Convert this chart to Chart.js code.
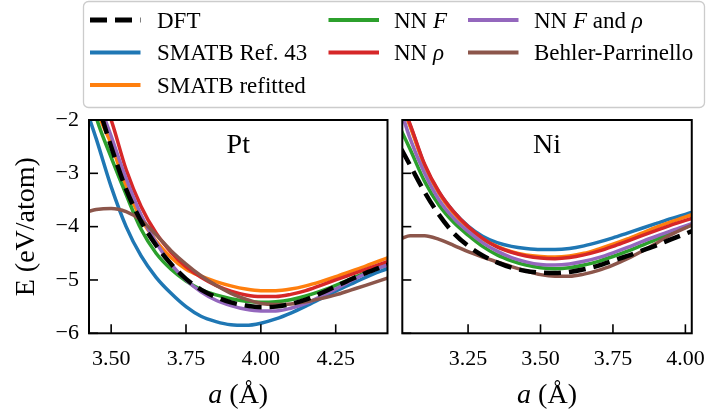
<!DOCTYPE html>
<html>
<head>
<meta charset="utf-8">
<script src="https://cdn.jsdelivr.net/npm/chart.js@4.4.1/dist/chart.umd.min.js"></script>
<style>
  html, body { margin: 0; padding: 0; background: #ffffff; }
  #wrap { position: relative; width: 718px; height: 416px; }
  #wrap canvas { position: absolute; left: 0; top: 0; }
</style>
</head>
<body>
<div id="wrap">
  <canvas id="ptChart" width="718" height="416"></canvas>
  <canvas id="niChart" width="718" height="416"></canvas>
</div>
<script>
// ---- Pt: energy vs lattice constant (eV/atom) ----
const ptLattice = [3.42, 3.45, 3.50, 3.55, 3.60, 3.65, 3.70, 3.75, 3.80, 3.85, 3.90, 3.95, 4.00, 4.05, 4.10, 4.15, 4.20, 4.25, 4.30, 4.35, 4.425];
const ptDFT      = [-1.05, -1.60, -2.50, -3.30, -3.90, -4.35, -4.70, -4.98, -5.18, -5.32, -5.42, -5.48, -5.51, -5.50, -5.45, -5.37, -5.25, -5.12, -4.99, -4.87, -4.71];
const ptSmatbRef = [-1.85, -2.35, -3.25, -4.00, -4.55, -4.95, -5.25, -5.50, -5.68, -5.78, -5.84, -5.85, -5.81, -5.73, -5.62, -5.49, -5.35, -5.21, -5.08, -4.95, -4.78];
const ptSmatbFit = [-0.95, -1.75, -2.45, -3.25, -3.85, -4.27, -4.58, -4.80, -4.93, -5.03, -5.11, -5.17, -5.20, -5.20, -5.17, -5.11, -5.03, -4.94, -4.84, -4.74, -4.58];
const ptNNF      = [-1.30, -1.95, -2.70, -3.40, -4.05, -4.50, -4.80, -5.02, -5.18, -5.28, -5.35, -5.40, -5.42, -5.41, -5.37, -5.30, -5.21, -5.10, -4.98, -4.86, -4.71];
const ptNNRho    = [-0.30, -1.30, -2.00, -2.93, -3.62, -4.12, -4.48, -4.75, -4.95, -5.10, -5.21, -5.28, -5.31, -5.31, -5.27, -5.20, -5.10, -5.00, -4.90, -4.80, -4.65];
const ptNNFRho   = [-0.80, -1.50, -2.30, -3.10, -3.78, -4.30, -4.70, -5.00, -5.22, -5.38, -5.48, -5.55, -5.58, -5.58, -5.53, -5.44, -5.31, -5.17, -5.02, -4.88, -4.71];
const ptBP       = [-3.72, -3.68, -3.66, -3.72, -3.88, -4.15, -4.45, -4.70, -4.92, -5.10, -5.25, -5.36, -5.44, -5.46, -5.45, -5.41, -5.35, -5.28, -5.19, -5.10, -4.96];

// ---- Ni: energy vs lattice constant (eV/atom) ----
const niLattice = [3.02, 3.05, 3.10, 3.15, 3.20, 3.25, 3.30, 3.35, 3.40, 3.45, 3.50, 3.55, 3.60, 3.65, 3.70, 3.75, 3.80, 3.85, 3.90, 3.95, 4.025];
const niDFT      = [-2.55, -2.85, -3.35, -3.78, -4.12, -4.36, -4.54, -4.67, -4.77, -4.83, -4.86, -4.87, -4.85, -4.80, -4.73, -4.64, -4.55, -4.45, -4.35, -4.24, -4.08];
const niSmatbRef = [-1.72, -2.10, -2.85, -3.36, -3.72, -3.99, -4.18, -4.30, -4.37, -4.41, -4.43, -4.43, -4.41, -4.36, -4.29, -4.21, -4.12, -4.03, -3.94, -3.85, -3.73];
const niSmatbFit = [-1.72, -2.12, -2.86, -3.38, -3.75, -4.02, -4.23, -4.37, -4.47, -4.53, -4.56, -4.57, -4.55, -4.50, -4.42, -4.33, -4.23, -4.12, -4.01, -3.91, -3.77];
const niNNF      = [-2.20, -2.55, -3.15, -3.60, -3.92, -4.16, -4.37, -4.53, -4.64, -4.72, -4.77, -4.79, -4.77, -4.72, -4.65, -4.56, -4.46, -4.35, -4.24, -4.12, -3.96];
const niNNRho    = [-1.68, -2.08, -2.83, -3.35, -3.72, -4.00, -4.22, -4.38, -4.48, -4.55, -4.59, -4.60, -4.58, -4.53, -4.46, -4.37, -4.27, -4.17, -4.07, -3.97, -3.84];
const niNNFRho   = [-1.85, -2.35, -3.00, -3.50, -3.84, -4.09, -4.30, -4.46, -4.58, -4.66, -4.71, -4.72, -4.70, -4.65, -4.58, -4.49, -4.39, -4.28, -4.18, -4.08, -3.94];
const niBP       = [-4.22, -4.17, -4.17, -4.24, -4.35, -4.47, -4.57, -4.66, -4.75, -4.83, -4.90, -4.93, -4.93, -4.89, -4.82, -4.72, -4.60, -4.46, -4.31, -4.15, -3.96];

// ---- axes ----
const ptTicks = [3.50, 3.75, 4.00, 4.25];
const niTicks = [3.25, 3.50, 3.75, 4.00];
const energyTicks = [-6, -5, -4, -3, -2];

// series names (*...* = italic) and line colours
const seriesLabels = ['DFT', 'SMATB Ref. 43', 'SMATB refitted', 'NN *F*', 'NN *ρ*', 'NN *F* and *ρ*', 'Behler-Parrinello'];
const seriesColors = ['#000000', '#1f77b4', '#ff7f0e', '#2ca02c', '#d62728', '#9467bd', '#8c564b'];

const FONT = "'Liberation Serif', 'Times New Roman', serif";
Chart.defaults.color = '#000000';
Chart.defaults.font.family = FONT;

function makeDatasets(lattice, series) {
  return series.map((values, i) => ({
    label: seriesLabels[i].replace(/\*/g, ''),
    data: values.map((e, k) => ({ x: lattice[k], y: e })),
    borderColor: seriesColors[i],
    borderWidth: i === 0 ? 4.5 : 3.5,
    borderDash: i === 0 ? [17, 8] : [],
    borderCapStyle: 'butt',
    pointRadius: 0,
    cubicInterpolationMode: 'monotone',
    fill: false,
    clip: 0,
    order: i === 0 ? 0 : 7 - i
  }));
}

// draws a label made of plain and *italic* runs
function drawRich(ctx, text, x, y, size) {
  const parts = text.split('*');
  let cx = x;
  parts.forEach((p, i) => {
    if (!p) return;
    ctx.font = (i % 2 ? 'italic ' : '') + size + 'px ' + FONT;
    ctx.fillText(p, cx, y);
    cx += ctx.measureText(p).width;
  });
  return cx - x;
}
function measureRich(ctx, text, size) {
  const parts = text.split('*');
  let w = 0;
  parts.forEach((p, i) => {
    if (!p) return;
    ctx.font = (i % 2 ? 'italic ' : '') + size + 'px ' + FONT;
    w += ctx.measureText(p).width;
  });
  return w;
}

// frame, inward ticks, panel name and x-axis title
const panelPlugin = {
  id: 'panel',
  afterDatasetsDraw(chart, args, opts) {
    const { ctx, chartArea: a, scales } = chart;
    ctx.save();
    ctx.strokeStyle = '#000';
    ctx.lineWidth = 1.6;
    const tl = 9;
    opts.xTicks.forEach(v => {
      const px = scales.x.getPixelForValue(v);
      ctx.beginPath(); ctx.moveTo(px, a.bottom); ctx.lineTo(px, a.bottom - tl); ctx.stroke();
    });
    energyTicks.forEach(v => {
      const py = scales.y.getPixelForValue(v);
      ctx.beginPath(); ctx.moveTo(a.left, py); ctx.lineTo(a.left + tl, py); ctx.stroke();
    });
    ctx.lineWidth = 2;
    ctx.strokeRect(a.left, a.top, a.right - a.left, a.bottom - a.top);

    ctx.fillStyle = '#000';
    ctx.textBaseline = 'alphabetic';
    ctx.textAlign = 'center';
    ctx.font = '28px ' + FONT;
    ctx.fillText(opts.name, (a.left + a.right) / 2, a.top + 33);

    // x title: italic a + (Å)
    ctx.textAlign = 'left';
    const title = '*a* (Å)';
    const w = measureRich(ctx, title, 28);
    drawRich(ctx, title, (a.left + a.right) / 2 - w / 2, 403, 28);
    ctx.restore();
  }
};

// y title and legend box, drawn once on the Pt chart
const legendPlugin = {
  id: 'sharedLegend',
  afterDraw(chart) {
    const { ctx, chartArea: a } = chart;
    ctx.save();
    ctx.fillStyle = '#000';
    ctx.font = '28px ' + FONT;
    ctx.textAlign = 'center';
    ctx.textBaseline = 'alphabetic';
    ctx.translate(34, (a.top + a.bottom) / 2);
    ctx.rotate(-Math.PI / 2);
    ctx.fillText('E (eV/atom)', 0, 0);
    ctx.restore();

    ctx.save();
    ctx.beginPath();
    ctx.roundRect(83.5, 1.5, 621, 106, 5);
    ctx.fillStyle = 'rgba(255,255,255,0.9)';
    ctx.fill();
    ctx.strokeStyle = '#cccccc';
    ctx.lineWidth = 1.3;
    ctx.stroke();

    // 7 entries in 3 columns of 3, 2, 2
    const cols = [0, 0, 0, 1, 1, 2, 2];
    const rows = [0, 1, 2, 0, 1, 0, 1];
    const colLine = [90, 328.5, 468];
    const colText = [157, 394, 534];
    const rowY = [20, 52.5, 85];
    chart.data.datasets.forEach((ds, i) => {
      const col = cols[i], y = rowY[rows[i]];
      ctx.beginPath();
      ctx.setLineDash(ds.borderDash);
      ctx.lineCap = 'butt';
      ctx.strokeStyle = ds.borderColor;
      ctx.lineWidth = ds.borderWidth + 0.5;
      ctx.moveTo(colLine[col], y);
      ctx.lineTo(colLine[col] + 50.5, y);
      ctx.stroke();
      ctx.setLineDash([]);
      ctx.fillStyle = '#000';
      ctx.textAlign = 'left';
      ctx.textBaseline = 'alphabetic';
      drawRich(ctx, seriesLabels[i], colText[col], y + 7.8, 23);
    });
    ctx.restore();
  }
};

function tickFont() { return { family: FONT, size: 22 }; }

function buildChart(id, lattice, series, xMin, xMax, xTicks, name, padding, showY) {
  return new Chart(document.getElementById(id), {
    type: 'line',
    data: { datasets: makeDatasets(lattice, series) },
    options: {
      responsive: false,
      animation: false,
      devicePixelRatio: 1,
      layout: { padding },
      plugins: {
        legend: { display: false },
        tooltip: { enabled: false },
        panel: { name, xTicks }
      },
      scales: {
        x: {
          type: 'linear',
          min: xMin,
          max: xMax,
          afterBuildTicks: s => { s.ticks = xTicks.map(v => ({ value: v })); },
          afterFit: s => { s.height = 40; },
          grid: { display: false, drawTicks: false },
          border: { display: false },
          ticks: {
            font: tickFont(),
            color: '#000',
            padding: 13,
            autoSkip: false,
            maxRotation: 0,
            includeBounds: false,
            callback: v => Number(v).toFixed(2)
          }
        },
        y: {
          type: 'linear',
          display: showY,
          min: -6,
          max: -2,
          afterBuildTicks: s => { s.ticks = energyTicks.map(v => ({ value: v })); },
          afterFit: s => { s.width = showY ? 89 : 0; },
          grid: { display: false, drawTicks: false },
          border: { display: false },
          ticks: {
            font: tickFont(),
            color: '#000',
            padding: 10,
            includeBounds: false,
            callback: v => (v < 0 ? '\u2212' : '') + Math.abs(v)
          }
        }
      }
    },
    plugins: showY ? [panelPlugin, legendPlugin] : [panelPlugin]
  });
}

buildChart('ptChart', ptLattice,
  [ptDFT, ptSmatbRef, ptSmatbFit, ptNNF, ptNNRho, ptNNFRho, ptBP],
  3.426, 4.423, ptTicks, 'Pt',
  { left: 0, right: 330.5, top: 120, bottom: 42.7 }, true);

buildChart('niChart', niLattice,
  [niDFT, niSmatbRef, niSmatbFit, niNNF, niNNRho, niNNFRho, niBP],
  3.023, 4.022, niTicks, 'Ni',
  { left: 402.3, right: 16.3, top: 120, bottom: 42.7 }, false);
</script>
</body>
</html>
